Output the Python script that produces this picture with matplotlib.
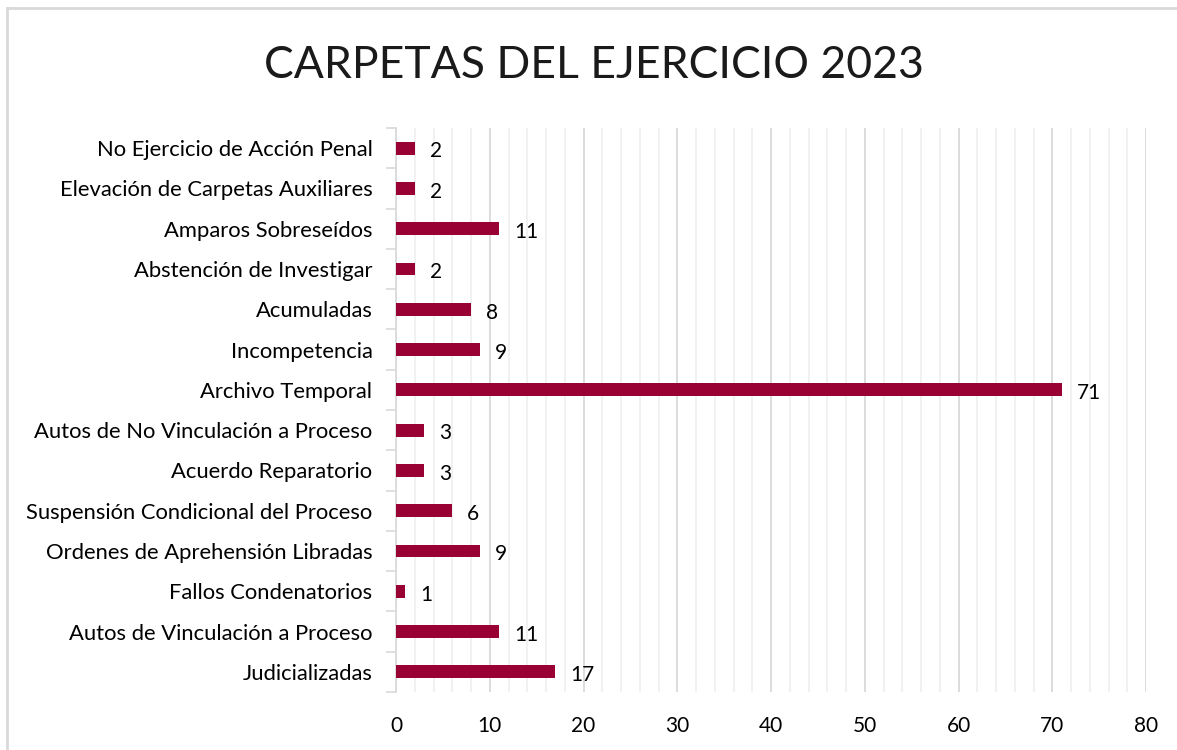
import matplotlib.pyplot as plt
from matplotlib.lines import Line2D
from matplotlib.ticker import MultipleLocator

# categorías de abajo hacia arriba
categorias = [
    'Judicializadas',
    'Autos de Vinculación a Proceso',
    'Fallos Condenatorios',
    'Ordenes de Aprehensión Libradas',
    'Suspensión Condicional del Proceso',
    'Acuerdo Reparatorio',
    'Autos de No Vinculación a Proceso',
    'Archivo Temporal',
    'Incompetencia',
    'Acumuladas',
    'Abstención de Investigar',
    'Amparos Sobreseídos',
    'Elevación de Carpetas Auxiliares',
    'No Ejercicio de Acción Penal',
]
valores = [17, 11, 1, 9, 6, 3, 3, 71, 9, 8, 2, 11, 2, 2]

titulo = 'CARPETAS DEL EJERCICIO 2023'
color_barra = '#990033'

plt.rcParams['font.family'] = ['Lato', 'DejaVu Sans']

fig = plt.figure(figsize=(11.77, 7.5), dpi=100)
ax = fig.add_axes([396 / 1177, 1 - 692 / 750, 750 / 1177, (692 - 128) / 750])

y = range(len(categorias))
ax.barh(y, valores, height=0.32, color=color_barra, zorder=3)

for i, v in enumerate(valores):
    ax.text(v + 1.6, i - 0.08, str(v), va='center', ha='left', fontsize=15, color='black')

ax.set_xlim(0, 80)
ax.set_ylim(-0.5, len(categorias) - 0.5)
ax.xaxis.set_major_locator(MultipleLocator(10))
ax.xaxis.set_minor_locator(MultipleLocator(2))
ax.grid(axis='x', which='major', color='#d9d9d9', linewidth=1.3, zorder=0)
ax.grid(axis='x', which='minor', color='#f0f0f0', linewidth=1.3, zorder=0)

ax.set_yticks([i - 0.5 for i in range(len(categorias) + 1)], minor=False)
ax.set_yticklabels([])
ax.set_yticks(list(y), minor=True)
ax.set_yticklabels(categorias, minor=True, fontsize=15.8)
ax.tick_params(axis='y', which='major', length=7, color='#d9d9d9', width=1.2)
ax.tick_params(axis='y', which='minor', length=0, pad=17)
ax.tick_params(axis='x', which='both', length=0, labelsize=15, pad=17)

for s in ['top', 'right', 'bottom']:
    ax.spines[s].set_visible(False)
ax.spines['left'].set_color('#d9d9d9')
ax.spines['left'].set_linewidth(1.2)

fig.text(0.505, 1 - 65 / 750, titulo, ha='center', va='center', fontsize=32, color='#1a1a1a')

# marco del gráfico
fig.add_artist(Line2D([7 / 1177, 1], [1 - 8 / 750, 1 - 8 / 750], color='#d9d9d9', linewidth=2,
                      transform=fig.transFigure))
fig.add_artist(Line2D([7 / 1177, 7 / 1177], [0, 1 - 8 / 750], color='#d9d9d9', linewidth=2,
                      transform=fig.transFigure))

fig.savefig('out.png', dpi=100)
